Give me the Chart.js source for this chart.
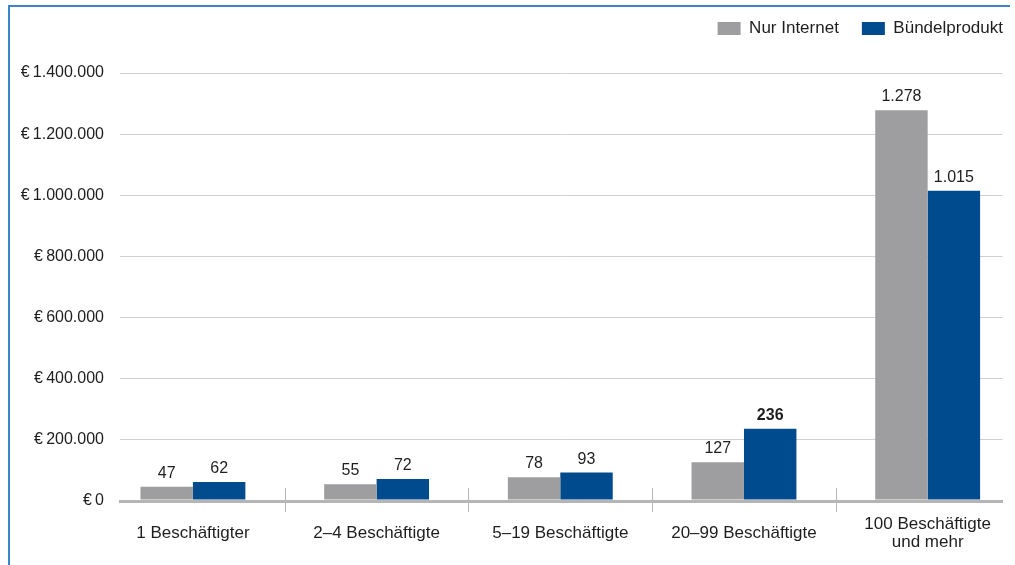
<!DOCTYPE html>
<html lang="de">
<head>
<meta charset="utf-8">
<title>Umsatz nach Unternehmensgröße</title>
<script src="https://cdn.jsdelivr.net/npm/chart.js@4/dist/chart.umd.min.js"></script>
<style>
  html, body { margin: 0; padding: 0; background: #fff; overflow: hidden; }
  #rahmen {
    position: absolute; left: 8px; top: 5px; width: 1000px; height: 600px;
    border-top: 2px solid #3d84c8; border-left: 2px solid #3d84c8;
  }
  #wrap { position: absolute; left: 0; top: 0; width: 1015px; height: 565px; }
</style>
</head>
<body>
<div id="rahmen"></div>
<div id="wrap"><canvas id="grafik"></canvas></div>
<script>
// Werte in Tausend Euro
var kategorien = ['1 Beschäftigter', '2–4 Beschäftigte', '5–19 Beschäftigte', '20–99 Beschäftigte', ['100 Beschäftigte', 'und mehr']];
var nurInternet = [47, 55, 78, 127, 1278];
var buendelprodukt = [62, 72, 93, 236, 1015];
var yTicks = [0, 200, 400, 600, 800, 1000, 1200, 1400];
// fett gedruckte Werte: [Datensatz, Index]
var hervorgehoben = [[1, 3]];

var schrift = '"Liberation Sans", Arial, Helvetica, sans-serif';
Chart.defaults.font.family = schrift;
Chart.defaults.font.size = 16;
Chart.defaults.color = '#1e1e1e';

function tausender(v) {
  return v.toLocaleString('de-DE');
}

function punkte(werte) {
  return werte.map(function (v, i) { return { x: i, y: v }; });
}

// Zahlen über den Balken
var wertLabels = {
  id: 'wertLabels',
  afterDatasetsDraw: function (chart) {
    var ctx = chart.ctx;
    ctx.save();
    ctx.textAlign = 'center';
    ctx.textBaseline = 'alphabetic';
    ctx.fillStyle = '#1e1e1e';
    chart.data.datasets.forEach(function (ds, d) {
      chart.getDatasetMeta(d).data.forEach(function (el, i) {
        var fett = hervorgehoben.some(function (h) { return h[0] === d && h[1] === i; });
        ctx.font = (fett ? 'bold ' : '') + '16px ' + schrift;
        ctx.fillText(tausender(ds.data[i].y), el.x, el.y - 9);
      });
    });
    ctx.restore();
  }
};

// Trennstriche zwischen den Gruppen
var trenner = {
  id: 'trenner',
  afterDraw: function (chart) {
    var ctx = chart.ctx, x = chart.scales.x, unten = chart.chartArea.bottom;
    ctx.save();
    ctx.strokeStyle = '#b5b5b5';
    ctx.lineWidth = 1;
    for (var i = 0; i < kategorien.length - 1; i++) {
      var px = Math.round(x.getPixelForValue(i + 0.5)) + 0.5;
      ctx.beginPath();
      ctx.moveTo(px, unten - 13);
      ctx.lineTo(px, unten + 11);
      ctx.stroke();
    }
    ctx.restore();
  }
};

// Legende nach dem Layout an die rechte Kante und nach oben schieben
var legendePos = {
  id: 'legendePos',
  afterLayout: function (chart) {
    var l = chart.legend;
    l.left += 23; l.right += 23;
    l.top -= 26; l.bottom -= 26;
  }
};

new Chart(document.getElementById('grafik'), {
  type: 'bar',
  data: {
    datasets: [{
      label: 'Nur Internet',
      data: punkte(nurInternet),
      backgroundColor: '#9e9ea0'
    }, {
      label: 'Bündelprodukt',
      data: punkte(buendelprodukt),
      backgroundColor: '#004b8d'
    }]
  },
  options: {
    responsive: true,
    maintainAspectRatio: false,
    animation: false,
    categoryPercentage: 0.571,
    barPercentage: 1.0,
    layout: { padding: { top: 23, right: 12, left: 0, bottom: 0 } },
    plugins: {
      legend: {
        position: 'top',
        align: 'end',
        labels: {
          boxWidth: 23,
          boxHeight: 13,
          padding: 23,
          color: '#1e1e1e',
          font: { size: 17 }
        }
      },
      tooltip: { enabled: false }
    },
    scales: {
      x: {
        type: 'linear',
        min: -0.397,
        max: 4.408,
        offset: false,
        grid: { display: false, drawTicks: false, tickLength: 0, offset: false },
        border: { display: true, color: '#b5b5b5', width: 3 },
        afterBuildTicks: function (scale) {
          scale.ticks = kategorien.map(function (k, i) { return { value: i }; });
        },
        afterFit: function (scale) { scale.height = 64; },
        ticks: {
          padding: 23,
          maxRotation: 0,
          autoSkip: false,
          crossAlign: 'center',
          color: '#1e1e1e',
          font: { size: 17, lineHeight: 1.08 },
          callback: function (v, i) { return kategorien[i]; }
        }
      },
      y: {
        min: 0,
        max: 1400,
        afterBuildTicks: function (scale) {
          scale.ticks = yTicks.map(function (v) { return { value: v }; });
        },
        afterFit: function (scale) { scale.width = 120; },
        border: { display: false },
        grid: {
          drawTicks: false,
          tickLength: 0,
          color: function (c) { return c.tick && c.tick.value === 0 ? '#b5b5b5' : '#d0d0d0'; },
          lineWidth: function (c) { return c.tick && c.tick.value === 0 ? 3 : 1; }
        },
        ticks: {
          padding: 16,
          color: '#1e1e1e',
          font: { size: 16 },
          callback: function (v) { return '€\u2009' + tausender(v * 1000); }
        }
      }
    }
  },
  plugins: [wertLabels, trenner, legendePos]
});
</script>
</body>
</html>
